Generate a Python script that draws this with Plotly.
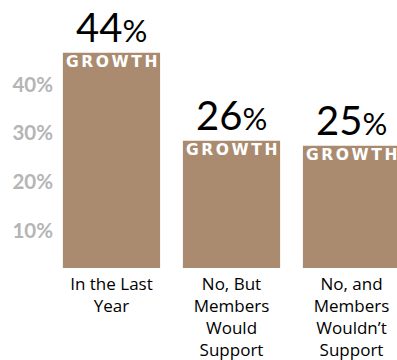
import plotly.graph_objects as go

categories = ["In the Last<br>Year", "No, But<br>Members<br>Would<br>Support",
              "No, and<br>Members<br>Wouldn\u2019t<br>Support"]
growth = [44, 26, 25]
tick_values = [10, 20, 30, 40]
tick_labels = ["10%", "20%", "30%", "40%"]

bar_color = "#AA8B6F"
font_family = "Lato, 'Open Sans', sans-serif"
label_family = "'Open Sans', Lato, sans-serif"
caption_family = "'DejaVu Sans', sans-serif"

x_idx = list(range(len(categories)))

fig = go.Figure(
    go.Bar(
        x=x_idx,
        y=growth,
        marker=dict(color=bar_color, line=dict(width=0)),
        width=0.81,
        hoverinfo="skip",
    )
)

# value labels above each bar and the white caption inside the bar top
caption = "\u2006".join("GROWTH")
for i, v in zip(x_idx, growth):
    fig.add_annotation(
        x=i, y=v, xref="x", yref="y",
        text=f"{v}<span style='font-size:31px'>%</span>",
        showarrow=False, yanchor="bottom", yshift=0,
        font=dict(family=font_family, size=40, color="#000000"),
    )
    fig.add_annotation(
        x=i, y=v, xref="x", yref="y",
        text=f"<b>{caption}</b>",
        showarrow=False, yanchor="top", yshift=2,
        font=dict(family=caption_family, size=15.5, color="#FFFFFF"),
    )

fig.update_layout(
    width=397, height=360,
    margin=dict(l=54, r=0, t=0, b=92, autoexpand=False),
    paper_bgcolor="#FFFFFF", plot_bgcolor="#FFFFFF",
    showlegend=False,
    bargap=0.19,
    xaxis=dict(
        range=[-0.479, 2.379],
        tickmode="array", tickvals=x_idx, ticktext=categories,
        showgrid=False, zeroline=False, showline=False, ticks="",
        tickfont=dict(family=label_family, size=17, color="#000000"),
        ticklabelstandoff=4,
        automargin=False,
        fixedrange=True,
    ),
    yaxis=dict(
        range=[0, 54.8],
        tickmode="array", tickvals=tick_values,
        ticktext=[f"<b>{t}</b>" for t in tick_labels],
        showgrid=False, zeroline=False, showline=False, ticks="",
        tickfont=dict(family=font_family, size=20.5, color="#B5B5B5"),
        ticklabelshift=12,
        automargin=False,
        fixedrange=True,
    ),
)

fig.write_html("out.html")
